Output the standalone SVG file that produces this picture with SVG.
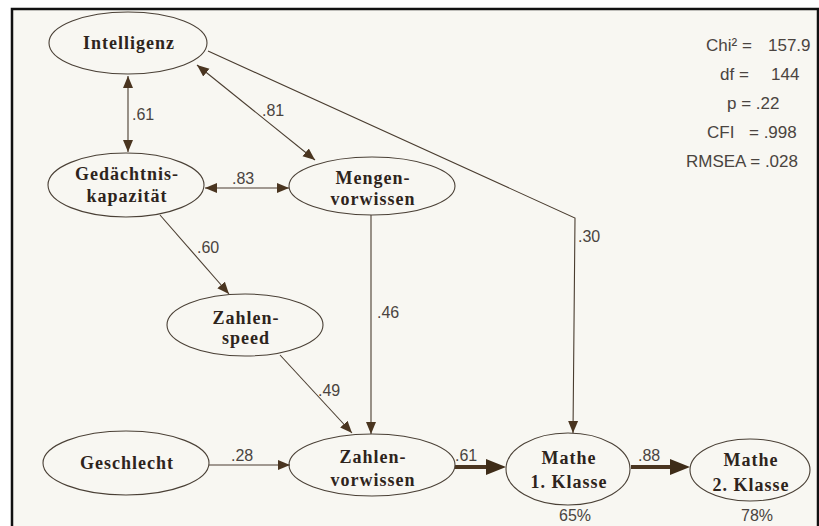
<svg xmlns="http://www.w3.org/2000/svg" width="819" height="526" viewBox="0 0 819 526">
<defs>
<marker id="ah" markerUnits="userSpaceOnUse" markerWidth="14" markerHeight="12" viewBox="0 -6 14 12" refX="12" refY="0" orient="auto">
<path d="M0,-5 L12,0 L0,5 z" fill="#4a3520"/>
</marker>
<marker id="ahs" markerUnits="userSpaceOnUse" markerWidth="14" markerHeight="12" viewBox="0 -6 14 12" refX="12" refY="0" orient="auto-start-reverse">
<path d="M0,-5 L12,0 L0,5 z" fill="#4a3520"/>
</marker>
<marker id="big" markerUnits="userSpaceOnUse" markerWidth="22" markerHeight="18" viewBox="0 -9 22 18" refX="1" refY="0" orient="auto">
<path d="M0,-8 L20,0 L0,8 z" fill="#3e2c18"/>
</marker>
</defs>
<style>
.node ellipse{fill:none;stroke:#4a4036;stroke-width:1.1}
.node text{font-family:"Liberation Serif",serif;font-weight:bold;font-size:18px;letter-spacing:1px;fill:#2e241c;text-anchor:middle}
.node text.pct{font-family:"Liberation Sans",sans-serif;font-weight:normal;font-size:16px;letter-spacing:0;fill:#4a4440}
.edge{fill:none;stroke:#4a3d30;stroke-width:1.1}
.thick{fill:none;stroke:#4a3520;stroke-width:4}
.lbl{font-family:"Liberation Sans",sans-serif;font-size:16px;fill:#4a4440}
.stat{font-family:"Liberation Sans",sans-serif;font-size:17px;fill:#4a4440}
</style>
<rect x="0" y="0" width="819" height="526" fill="#ffffff"/>
<rect x="12" y="9" width="806" height="530" fill="#f8f7f2" stroke="#111" stroke-width="2.5"/>

<g id="connectors">
<line class="edge" x1="128" y1="76" x2="128" y2="152" marker-start="url(#ahs)" marker-end="url(#ah)"/>
<line class="edge" x1="197" y1="65" x2="315" y2="160" marker-start="url(#ahs)" marker-end="url(#ah)"/>
<line class="edge" x1="205" y1="188" x2="289" y2="188" marker-start="url(#ahs)" marker-end="url(#ah)"/>
<polyline class="edge" points="208,51 575,218 573,433" marker-end="url(#ah)"/>
<line class="edge" x1="160" y1="215" x2="229" y2="294" marker-end="url(#ah)"/>
<line class="edge" x1="371" y1="215" x2="371" y2="434" marker-end="url(#ah)"/>
<line class="edge" x1="280" y1="355" x2="352" y2="433" marker-end="url(#ah)"/>
<line class="edge" x1="209" y1="465" x2="290" y2="465" marker-end="url(#ah)"/>
<line class="thick" x1="455" y1="467" x2="487" y2="467" marker-end="url(#big)"/>
<line class="thick" x1="631" y1="467" x2="671" y2="467" marker-end="url(#big)"/>
<text class="lbl" x="132" y="120">.61</text>
<text class="lbl" x="262" y="116">.81</text>
<text class="lbl" x="232" y="184">.83</text>
<text class="lbl" x="578" y="242">.30</text>
<text class="lbl" x="197" y="253">.60</text>
<text class="lbl" x="377" y="318">.46</text>
<text class="lbl" x="318" y="396">.49</text>
<text class="lbl" x="231" y="461">.28</text>
<text class="lbl" x="455" y="461">.61</text>
<text class="lbl" x="638" y="461">.88</text>
</g>

<g id="intelligenz" class="node">
<ellipse cx="128" cy="43" rx="79" ry="31"/>
<text x="129" y="49">Intelligenz</text>
</g>
<g id="gedaechtnis" class="node">
<ellipse cx="126" cy="185" rx="78" ry="32"/>
<text x="127" y="180">Gedächtnis-</text>
<text x="127" y="202">kapazität</text>
</g>
<g id="mengen" class="node">
<ellipse cx="372" cy="186" rx="83" ry="29"/>
<text x="373" y="184">Mengen-</text>
<text x="373" y="205">vorwissen</text>
</g>
<g id="zahlenspeed" class="node">
<ellipse cx="245" cy="325" rx="78" ry="31"/>
<text x="246" y="324">Zahlen-</text>
<text x="246" y="344">speed</text>
</g>
<g id="geschlecht" class="node">
<ellipse cx="126" cy="463" rx="83" ry="32"/>
<text x="127" y="469">Geschlecht</text>
</g>
<g id="zahlenvorwissen" class="node">
<ellipse cx="372" cy="465" rx="83" ry="31"/>
<text x="373" y="463">Zahlen-</text>
<text x="373" y="486">vorwissen</text>
</g>
<g id="mathe1" class="node">
<ellipse cx="568" cy="469" rx="62" ry="36"/>
<text x="569" y="464">Mathe</text>
<text x="569" y="488">1. Klasse</text>
<text class="pct" x="575" y="521">65%</text>
</g>
<g id="mathe2" class="node">
<ellipse cx="750" cy="470" rx="60" ry="31"/>
<text x="751" y="466">Mathe</text>
<text x="751" y="491">2. Klasse</text>
<text class="pct" x="757" y="521">78%</text>
</g>

<g id="fit-stats">
<text class="stat" x="706" y="51">Chi² =</text>
<text class="stat" x="768" y="51">157.9</text>
<text class="stat" x="720" y="80">df =</text>
<text class="stat" x="771" y="80">144</text>
<text class="stat" x="727" y="109">p = .22</text>
<text class="stat" x="707" y="138">CFI</text>
<text class="stat" x="749" y="138">= .998</text>
<text class="stat" x="686" y="167">RMSEA = .028</text>
</g>
</svg>
